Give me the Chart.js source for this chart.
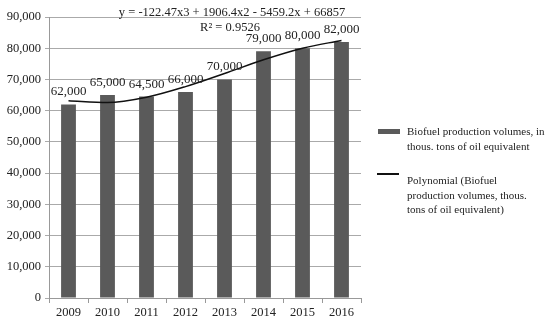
<!DOCTYPE html>
<html>
<head>
<meta charset="utf-8">
<script src="https://cdn.jsdelivr.net/npm/chart.js@4/dist/chart.umd.min.js"></script>
<style>
  html, body { margin: 0; padding: 0; background: #fff; }
  #wrap { position: relative; width: 550px; height: 321px; }
  .legend { position: absolute; font-family: "Liberation Serif", serif; font-size: 11px; line-height: 14.5px; color: #222; white-space: nowrap; }
  .swatch { position: absolute; }
</style>
</head>
<body>
<div id="wrap">
  <canvas id="chart" width="550" height="321"></canvas>
  <div class="swatch" style="left:378px;top:129px;width:22px;height:5px;background:#5a5a5a"></div>
  <div class="legend" style="left:407px;top:124px">Biofuel production volumes, in<br>thous. tons of oil equivalent</div>
  <div class="swatch" style="left:377px;top:173px;width:22px;height:1.5px;background:#111"></div>
  <div class="legend" style="left:407px;top:173px">Polynomial (Biofuel<br>production volumes, thous.<br>tons of oil equivalent)</div>
</div>
<script>
// Chart data
const years = ['2009', '2010', '2011', '2012', '2013', '2014', '2015', '2016'];
const production = [62000, 65000, 64500, 66000, 70000, 79000, 80000, 82000];
// trend line
const trend = [63200, 62600, 64300, 67700, 71900, 76300, 80000, 82500];
const yTicks = [0, 10000, 20000, 30000, 40000, 50000, 60000, 70000, 80000, 90000];
const equation = 'y = -122.47x3 + 1906.4x2 - 5459.2x + 66857';
const rSquared = 'R² = 0.9526';

const serif = '"Liberation Serif", "Times New Roman", serif';

// Draws value labels above bars and the trendline equation
const labelsPlugin = {
    id: 'labels',
    afterDatasetsDraw: function(chart) {
        const ctx = chart.ctx;
        const meta = chart.getDatasetMeta(0);
        ctx.save();
        ctx.fillStyle = '#222';
        ctx.font = '13px ' + serif;
        ctx.textAlign = 'center';
        ctx.textBaseline = 'bottom';
        meta.data.forEach((bar, i) => {
            ctx.fillText(production[i].toLocaleString('en-US'), bar.x, bar.y - 6);
        });
        ctx.font = '12.5px ' + serif;
        ctx.textBaseline = 'alphabetic';
        ctx.fillText(equation, 232, 16);
        ctx.fillText(rSquared, 230, 31);
        ctx.restore();
    }
};

new Chart(document.getElementById('chart'), {
    data: {
        labels: years,
        datasets: [{
            type: 'bar',
            data: production,
            backgroundColor: '#5a5a5a',
            barPercentage: 0.76,
            categoryPercentage: 0.5,
            order: 2
        }, {
            type: 'line',
            data: trend,
            borderColor: '#111',
            borderWidth: 1.5,
            pointRadius: 0,
            cubicInterpolationMode: 'monotone',
            order: 1
        }]
    },
    options: {
        responsive: false,
        animation: false,
        layout: { padding: { top: 17, right: 189, left: 0, bottom: 0 } },
        plugins: {
            legend: { display: false },
            tooltip: { enabled: false }
        },
        scales: {
            x: {
                afterFit: function(scale) { scale.height = 23; },
                grid: { display: true, offset: true, drawOnChartArea: false, tickLength: 5, color: '#999' },
                border: { color: '#999' },
                ticks: { color: '#222', font: { family: serif, size: 12.5 }, padding: 2, maxRotation: 0 }
            },
            y: {
                min: 0,
                max: 90000,
                afterFit: function(scale) { scale.width = 49; },
                afterBuildTicks: function(scale) { scale.ticks = yTicks.map(v => ({ value: v })); },
                grid: { color: '#aaa', tickLength: 4 },
                border: { color: '#999' },
                ticks: {
                    color: '#222',
                    font: { family: serif, size: 12.5 },
                    padding: 4,
                    callback: v => v.toLocaleString('en-US')
                }
            }
        }
    },
    plugins: [labelsPlugin]
});
</script>
</body>
</html>
